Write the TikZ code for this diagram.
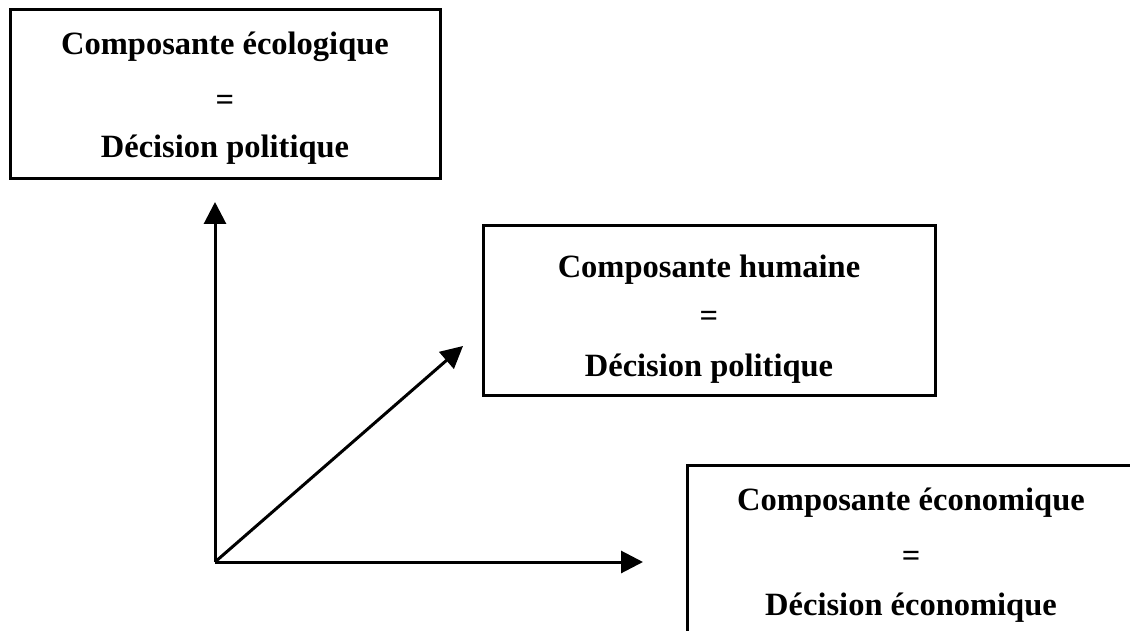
\documentclass[tikz,border=0pt]{standalone}
\usepackage{fontspec}
\setmainfont{Liberation Serif}
\usetikzlibrary{arrows.meta}
\begin{document}
\begin{tikzpicture}[x=1pt,y=-1pt,
  boxframe/.style={draw=black,line width=3pt,inner sep=0pt,rectangle},
  lbl/.style={anchor=base,inner sep=0pt,font=\fontsize{32.5}{40}\selectfont\bfseries},
  axis/.style={line width=3pt,-{Triangle[length=22pt,width=22pt]}}]
\useasboundingbox (0,0) rectangle (1130,631);
% boxes
\node[boxframe,minimum width=430pt,minimum height=169pt] (b1) at (225,94.5) {};
\node[boxframe,minimum width=452pt,minimum height=169pt] (b2) at (709,310.5) {};
\node[boxframe,minimum width=448pt,minimum height=235pt] (b3) at (911,582.5) {};
% texts
\node[lbl] (t11) at (225,55) {Composante écologique};
\node[lbl] (t12) at (225,111) {=};
\node[lbl] (t13) at (225,158) {Décision politique};
\node[lbl] (t21) at (709,277) {Composante humaine};
\node[lbl] (t22) at (709,326) {=};
\node[lbl] (t23) at (709,376) {Décision politique};
\node[lbl] (t31) at (911,510) {Composante économique};
\node[lbl] (t32) at (911,566) {=};
\node[lbl] (t33) at (911,615) {Décision économique};
% axes
\coordinate (o) at (215,562);
\coordinate (up) at (215,202);
\coordinate (right) at (643,562);
\coordinate (diag) at (463,346);
\draw[axis] (o) -- (up);
\draw[axis] (o) -- (right);
\draw[axis] (o) -- (diag);
\end{tikzpicture}
\end{document}
